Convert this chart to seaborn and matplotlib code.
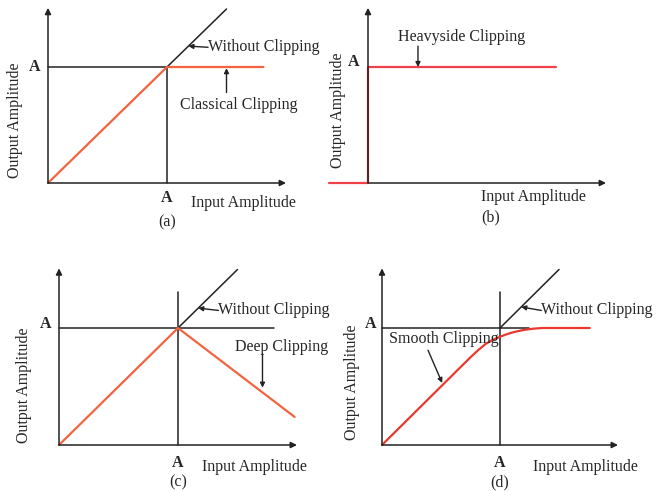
import numpy as np
import matplotlib.pyplot as plt
import seaborn as sns

# All values in units of the clipping level A (A = 1)
# (a) classical clipping
a_in = [0.0, 1.0, 1.81]
a_out = [0.0, 1.0, 1.0]
# (b) heavyside clipping
b_in = [-0.33, 0.0, 0.0, 1.58]
b_out = [0.0, 0.0, 1.0, 1.0]
# (c) deep clipping
c_in = [0.0, 1.0, 1.98]
c_out = [0.0, 1.0, 0.24]
# (d) smooth clipping
d_in = [0.0, 0.2, 0.4, 0.6, 0.75, 0.82, 0.88, 0.94, 1.0, 1.06, 1.12, 1.2, 1.28, 1.36, 1.76]
d_out = [0.0, 0.2, 0.4, 0.6, 0.75, 0.815, 0.865, 0.9, 0.925, 0.948, 0.966, 0.983, 0.994, 1.0, 1.0]
# without clipping (identity past A)
free_in = [1.0, 1.5]
free_out = [1.0, 1.5]

sns.set_theme(style="white")
plt.rcParams["font.family"] = ["Liberation Serif", "DejaVu Serif"]

W, H = 656, 491
FS = 11.5
fig = plt.figure(figsize=(W / 100, H / 100), dpi=100)

XLIM = (-0.45, 2.45)
YLIM = (-0.45, 1.62)

black = "#222222"
red_a = "#f2643f"
red_b = "#f0404a"
red_d = "#e8392e"


def make_panel(ox, oy, ux, uy):
    # place an axes so that data (0,0) sits at pixel (ox, oy)
    left = (ox + XLIM[0] * ux) / W
    bottom = 1 - (oy - YLIM[0] * uy) / H
    width = (XLIM[1] - XLIM[0]) * ux / W
    height = (YLIM[1] - YLIM[0]) * uy / H
    ax = fig.add_axes([left, bottom, width, height])
    ax.set_xlim(XLIM)
    ax.set_ylim(YLIM)
    ax.axis("off")
    return ax


def arrow(ax, start, end, lw=1.0, ms=7):
    ax.annotate("", xy=end, xytext=start,
                arrowprops=dict(arrowstyle="-|>", color=black, lw=lw,
                                mutation_scale=ms, shrinkA=0, shrinkB=0))


def draw_axes(ax, xmax=2.0, ymax=1.51):
    arrow(ax, (0, 0), (xmax, 0), lw=1.1, ms=9)
    arrow(ax, (0, 0), (0, ymax), lw=1.1, ms=9)


def txt(ax, x, y, s, **kw):
    ax.text(x, y, s, ha=kw.pop("ha", "center"), va="center", fontsize=FS, **kw)


def curve(ax, x, y, color, lw):
    sns.lineplot(x=x, y=y, ax=ax, color=color, lw=lw, sort=False, estimator=None)


# ---- (a) ----
ax = make_panel(48, 183, 119, 116)
draw_axes(ax)
ax.plot([0, 1], [1, 1], color=black, lw=1.1)
ax.plot([1, 1], [0, 1], color=black, lw=1.1)
curve(ax, free_in, free_out, black, 1.1)
curve(ax, a_in, a_out, red_a, 1.6)
arrow(ax, (1.345, 1.17), (1.18, 1.18))
txt(ax, 1.345, 1.17, "Without Clipping", ha="left")
txt(ax, 1.6, 0.67, "Classical Clipping")
arrow(ax, (1.5, 0.78), (1.5, 0.99))
txt(ax, 1.0, -0.13, "A", weight="bold")
txt(ax, 1.64, -0.17, "Input Amplitude")
txt(ax, 1.0, -0.34, "(a)")
txt(ax, -0.28, 0.54, "Output Amplitude", rotation=90)
txt(ax, -0.11, 1.0, "A", weight="bold")

# ---- (b) ----
ax = make_panel(368, 183, 119, 116)
draw_axes(ax)
curve(ax, b_in, b_out, red_b, 1.6)
txt(ax, 0.79, 1.26, "Heavyside Clipping")
arrow(ax, (0.42, 1.18), (0.42, 1.0))
txt(ax, 1.39, -0.12, "Input Amplitude")
txt(ax, 1.03, -0.30, "(b)")
txt(ax, -0.25, 0.63, "Output Amplitude", rotation=90)
txt(ax, -0.12, 1.04, "A", weight="bold")

# ---- (c) ----
ax = make_panel(59, 445, 119, 117)
draw_axes(ax)
ax.plot([0, 1.81], [1, 1], color=black, lw=1.1)
ax.plot([1, 1], [0, 1.31], color=black, lw=1.1)
curve(ax, free_in, free_out, black, 1.1)
curve(ax, c_in, c_out, red_a, 1.6)
arrow(ax, (1.34, 1.15), (1.17, 1.17))
txt(ax, 1.34, 1.15, "Without Clipping", ha="left")
txt(ax, 1.87, 0.84, "Deep Clipping")
arrow(ax, (1.71, 0.78), (1.71, 0.49))
txt(ax, 1.0, -0.15, "A", weight="bold")
txt(ax, 1.64, -0.19, "Input Amplitude")
txt(ax, 1.0, -0.32, "(c)")
txt(ax, -0.29, 0.51, "Output Amplitude", rotation=90)
txt(ax, -0.11, 1.03, "A", weight="bold")

# ---- (d) ----
ax = make_panel(382, 445, 118, 117)
draw_axes(ax)
ax.plot([0, 1.25], [1, 1], color=black, lw=1.1)
ax.plot([1, 1], [0, 1.31], color=black, lw=1.1)
curve(ax, free_in, free_out, black, 1.1)
curve(ax, d_in, d_out, red_d, 1.6)
arrow(ax, (1.35, 1.15), (1.18, 1.18))
txt(ax, 1.35, 1.15, "Without Clipping", ha="left")
txt(ax, 0.52, 0.91, "Smooth Clipping")
arrow(ax, (0.39, 0.81), (0.51, 0.53))
txt(ax, 1.0, -0.15, "A", weight="bold")
txt(ax, 1.72, -0.19, "Input Amplitude")
txt(ax, 1.0, -0.32, "(d)")
txt(ax, -0.25, 0.54, "Output Amplitude", rotation=90)
txt(ax, -0.10, 1.03, "A", weight="bold")

fig.savefig("out.png", dpi=100)
